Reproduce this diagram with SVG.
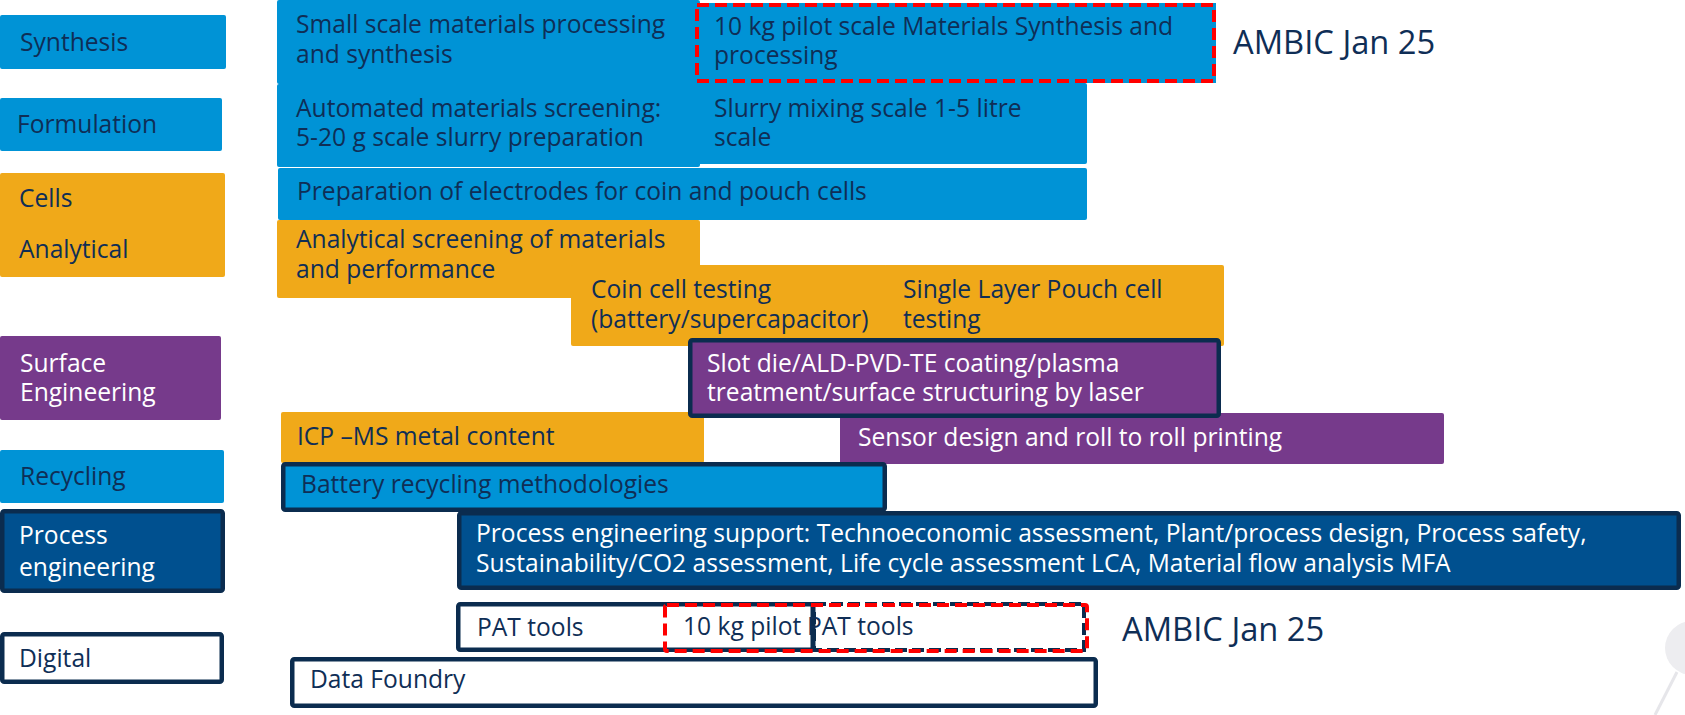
<svg xmlns="http://www.w3.org/2000/svg" width="1685" height="715" viewBox="0 0 1685 715">
<style>
text{font-family:"Open Sans","Noto Sans","Liberation Sans",sans-serif;font-size:24.6px;fill:#0f2e56}
text.w{fill:#ffffff}
text.big{font-size:32.7px}
.blue{fill:#0093d6}
.orange{fill:#f0a919}
.purple{fill:#763a8b}
.dark{fill:#00508f;stroke:#0b2c4f;stroke-width:4.5}
.navyb{stroke:#0b2c4f;stroke-width:4.5}
.white{fill:#ffffff;stroke:#0b2c4f;stroke-width:4.5}
.reddash{fill:none;stroke:#ff0000;stroke-width:4;stroke-dasharray:12 6}
.navydash{fill:#ffffff;stroke:#0b2c4f;stroke-width:4;stroke-dasharray:12 5}
</style>
<rect width="1685" height="715" fill="#ffffff"/>
<g id="decoration">
<circle cx="1692" cy="648" r="27" fill="#ededf0"/>
<line x1="1677" y1="672" x2="1655" y2="715" stroke="#e6e6ea" stroke-width="3"/>
</g>
<g id="connectors"></g>
<g id="label-synthesis"><rect class="blue" x="0" y="15" width="226" height="54" rx="2"/><text x="20" y="51">Synthesis</text></g>
<g id="label-formulation"><rect class="blue" x="0" y="98" width="222" height="53" rx="2"/><text x="17" y="133">Formulation</text></g>
<g id="label-cells"><rect class="orange" x="0" y="173" width="225" height="104" rx="2"/><text x="19" y="207">Cells</text><text x="19" y="258">Analytical</text></g>
<g id="label-surface"><rect class="purple" x="0" y="336" width="221" height="84" rx="2"/><text class="w" x="20" y="372">Surface</text><text class="w" x="20" y="401">Engineering</text></g>
<g id="label-recycling"><rect class="blue" x="0" y="450" width="224" height="53" rx="2"/><text x="20" y="485">Recycling</text></g>
<g id="label-process"><rect class="dark" x="2.25" y="511.25" width="220.5" height="79.5" rx="2"/><text class="w" x="19" y="544">Process</text><text class="w" x="19" y="576">engineering</text></g>
<g id="label-digital"><rect class="white" x="2.25" y="634.25" width="219.5" height="47.5" rx="2"/><text x="19" y="667">Digital</text></g>
<g id="small-scale"><rect class="blue" x="277" y="0" width="423" height="84" rx="2"/><text x="296" y="33">Small scale materials processing</text><text x="296" y="63">and synthesis</text></g>
<g id="pilot-scale"><rect class="blue" x="695" y="3" width="521" height="80"/><rect class="reddash" x="697" y="5" width="517" height="76"/><text x="714" y="35">10 kg pilot scale Materials Synthesis and</text><text x="714" y="64">processing</text></g>
<g id="ambic-top"><text class="big" x="1233" y="54">AMBIC Jan 25</text></g>
<g id="automated"><rect class="blue" x="277" y="84" width="423" height="83" rx="2"/><text x="296" y="117">Automated materials screening:</text><text x="296" y="146">5-20 g scale slurry preparation</text></g>
<g id="slurry"><rect class="blue" x="696" y="83" width="391" height="81" rx="2"/><text x="714" y="117">Slurry mixing scale 1-5 litre</text><text x="714" y="146">scale</text></g>
<g id="electrodes"><rect class="blue" x="278" y="168" width="809" height="52" rx="2"/><text x="297" y="200">Preparation of electrodes for coin and pouch cells</text></g>
<g id="analytical"><rect class="orange" x="277" y="220" width="423" height="78" rx="2"/><text x="296" y="248">Analytical screening of materials</text><text x="296" y="278">and performance</text></g>
<g id="coin-cell"><rect class="orange" x="571" y="265" width="316" height="81" rx="2"/><text x="591" y="298">Coin cell testing</text><text x="591" y="328">(battery/supercapacitor)</text></g>
<g id="pouch-cell"><rect class="orange" x="884" y="265" width="340" height="81" rx="2"/><text x="903" y="298">Single Layer Pouch cell</text><text x="903" y="328">testing</text></g>
<g id="icp"><rect class="orange" x="281" y="412" width="423" height="51" rx="2"/><text x="297" y="445">ICP –MS metal content</text></g>
<g id="sensor"><rect class="purple" x="840" y="413" width="604" height="51" rx="2"/><text class="w" x="858" y="446">Sensor design and roll to roll printing</text></g>
<g id="slot-die"><rect class="purple navyb" x="690.25" y="340.25" width="528.5" height="75.5" rx="2"/><text class="w" x="707" y="372">Slot die/ALD-PVD-TE coating/plasma</text><text class="w" x="707" y="401">treatment/surface structuring by laser</text></g>
<g id="battery-recycling"><rect class="blue navyb" x="283.25" y="464.25" width="601.5" height="45.5" rx="2"/><text x="301" y="493">Battery recycling methodologies</text></g>
<g id="process-support"><rect class="dark" x="459.25" y="513.25" width="1219.5" height="74.5" rx="2"/><text class="w" x="476" y="542">Process engineering support: Technoeconomic assessment, Plant/process design, Process safety,</text><text class="w" x="476" y="572">Sustainability/CO2 assessment, Life cycle assessment LCA, Material flow analysis MFA</text></g>
<g id="pat-tools"><rect class="white" x="458.25" y="604.25" width="354.5" height="45.5" rx="2"/><text x="477" y="636">PAT tools</text></g>
<g id="pat-tools-pilot"><rect class="navydash" x="814" y="604" width="270" height="46"/><line x1="813.5" y1="602" x2="813.5" y2="652" stroke="#0b2c4f" stroke-width="4"/><rect class="reddash" x="665" y="605" width="422" height="46" rx="2"/><text x="683" y="635">10 kg pilot</text><text x="807" y="635">PAT tools</text></g>
<g id="ambic-bottom"><text class="big" x="1122" y="641">AMBIC Jan 25</text></g>
<g id="data-foundry"><rect class="white" x="292.25" y="659.25" width="803.5" height="46.5" rx="2"/><text x="310" y="688">Data Foundry</text></g>
</svg>
